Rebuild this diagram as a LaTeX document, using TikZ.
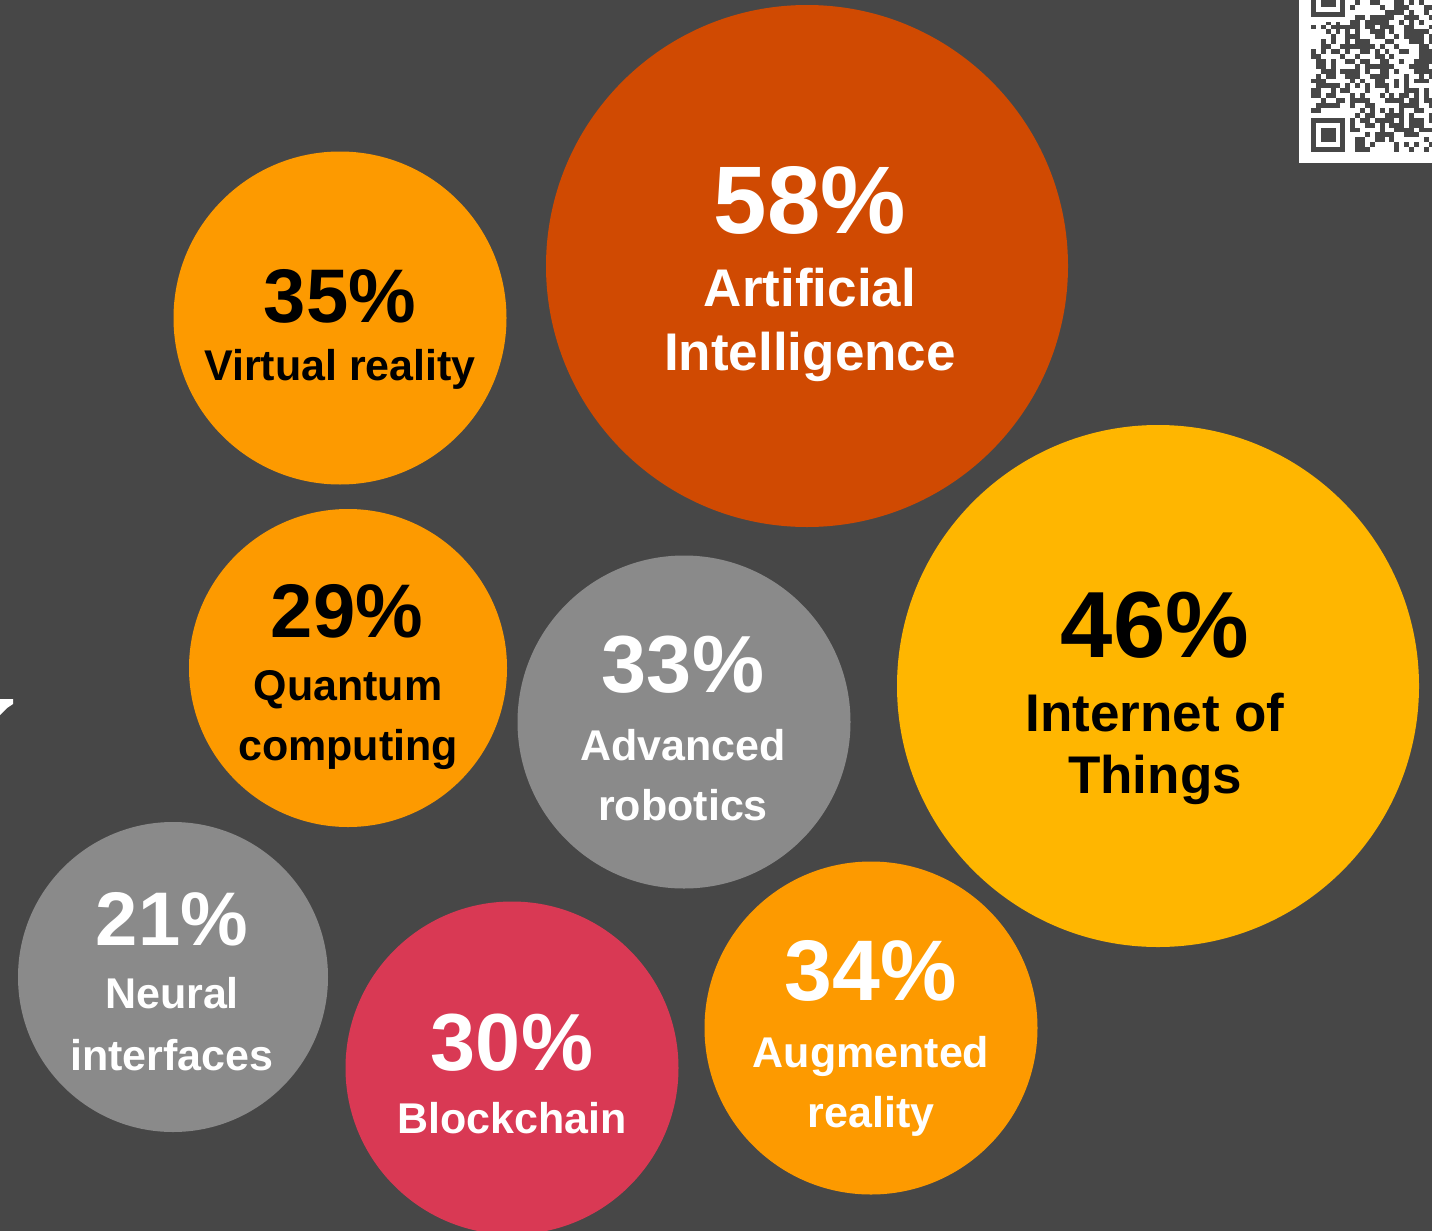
\documentclass[tikz,border=0pt]{standalone}
\usepackage{fontspec}
\setmainfont{Liberation Sans}
\definecolor{bg}{HTML}{474747}
\definecolor{rust}{HTML}{D04A02}
\definecolor{orng}{HTML}{FD9A00}
\definecolor{gold}{HTML}{FFB600}
\definecolor{grey}{HTML}{8A8A8A}
\definecolor{rose}{HTML}{D93954}
\tikzset{
  bubble/.style={circle, inner sep=0pt, draw=none},
  lbl/.style={anchor=base, inner sep=0pt, font=\bfseries\fontsize{#1}{#1}\selectfont},
}
\begin{document}
\begin{tikzpicture}[x=1pt,y=-1pt]
\fill[bg] (0,0) rectangle (1432,1231);
\useasboundingbox (0,0) rectangle (1432,1231);
% bubbles
\node[bubble, fill=rust, minimum size=522pt] (ai) at (807,266) {};
\node[bubble, fill=orng, minimum size=333pt] (vr) at (340,318) {};
\node[bubble, fill=gold, minimum size=522pt] (iot) at (1158,686) {};
\node[bubble, fill=orng, minimum size=318pt] (qc) at (348,668) {};
\node[bubble, fill=grey, minimum size=333pt] (rob) at (684,722) {};
\node[bubble, fill=grey, minimum size=310pt] (ni) at (173,977) {};
\node[bubble, fill=rose, minimum size=333pt] (bc) at (512,1068) {};
\node[bubble, fill=orng, minimum size=333pt] (ar) at (871,1028) {};
% texts
\node[lbl=96, text=white] (t58) at (810,233) {58\%};
\node[lbl=53, text=white] (t58a) at (810,306) {Artificial};
\node[lbl=53, text=white] (t58b) at (810,370) {Intelligence};
\node[lbl=76, text=black] (t35) at (340,322) {35\%};
\node[lbl=43, text=black] (t35a) at (340,380) {Virtual reality};
\node[lbl=76, text=black] (t29) at (347,637) {29\%};
\node[lbl=43, text=black] (t29a) at (348,700) {Quantum};
\node[lbl=43, text=black] (t29b) at (348,760) {computing};
\node[lbl=81, text=white] (t33) at (683,692) {33\%};
\node[lbl=43, text=white] (t33a) at (683,760) {Advanced};
\node[lbl=43, text=white] (t33b) at (683,820) {robotics};
\node[lbl=94, text=black] (t46) at (1155,657) {46\%};
\node[lbl=53, text=black] (t46a) at (1155,731) {Internet of};
\node[lbl=53, text=black] (t46b) at (1155,793) {Things};
\node[lbl=76, text=white] (t21) at (172,945) {21\%};
\node[lbl=43, text=white] (t21a) at (172,1008) {Neural};
\node[lbl=43, text=white] (t21b) at (172,1070) {interfaces};
\node[lbl=81, text=white] (t30) at (512,1070) {30\%};
\node[lbl=43, text=white] (t30a) at (512,1133) {Blockchain};
\node[lbl=86, text=white] (t34) at (871,1000) {34\%};
\node[lbl=43, text=white] (t34a) at (871,1067) {Augmented};
\node[lbl=43, text=white] (t34b) at (871,1127) {reality};
% left edge fragment
\fill[white] (0,699) -- (13,699) -- (13,704) -- (7,708) -- (2,713) -- (0,715) -- cycle;
% QR code
\fill[white] (1299,0) rectangle (1432,163);
\begin{scope}
\clip (1311,0) rectangle (1432,152);
\pgfmathsetseed{11}
\foreach \i in {0,...,24}{
  \foreach \j in {0,...,31}{
    \pgfmathsetmacro{\r}{rnd}
    \ifdim\r pt<0.5pt
      \fill[bg] ({1311+4.9*\i},{152-4.9*(\j+1)}) rectangle ++(4.9,4.9);
    \fi
  }
}
% finder patterns
\foreach \fy in {117.7,-17.6}{
  \fill[white] (1311,{\fy-4.9}) rectangle ++(39.2,44.1);
  \fill[bg] (1311,\fy) rectangle ++(34.3,34.3);
  \fill[white] (1315.9,{\fy+4.9}) rectangle ++(24.5,24.5);
  \fill[bg] (1320.8,{\fy+9.8}) rectangle ++(14.7,14.7);
}
\end{scope}
\end{tikzpicture}
\end{document}
